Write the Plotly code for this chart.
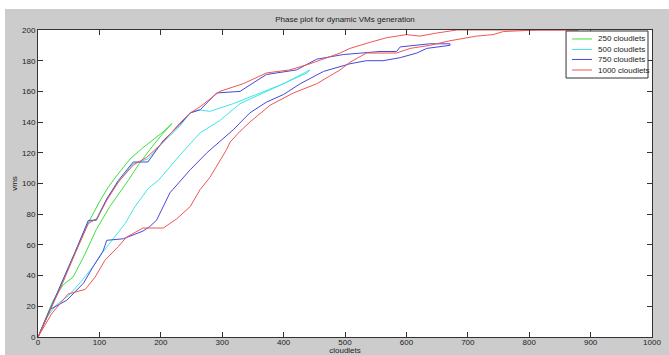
import plotly.graph_objects as go

# Phase trajectories (cloudlets vs. VMs) for each workload size.
# Each run climbs along one branch and returns along the other.
series_names = ["250 cloudlets", "500 cloudlets", "750 cloudlets", "1000 cloudlets"]

x_250 = [0, 10, 20, 32, 45, 60, 72, 84, 100, 115, 130, 150, 170, 190, 205, 218,
         200, 182, 165, 147, 117, 95, 74, 57, 41, 25, 12, 0]
y_250 = [0, 10, 19, 29, 41, 55, 66, 76, 88, 98, 106, 116, 123, 129, 134, 139,
         131, 122, 113, 102, 85, 70, 52, 39, 34, 24, 11, 0]

x_500 = [0, 20, 40, 60, 82, 95, 112, 131, 155, 179, 204, 230, 248, 262, 280, 318, 362, 400, 443,
         438, 405, 372, 329, 296, 264, 230, 196, 180, 158, 142, 120, 105, 90, 70, 50, 30, 15, 0]
y_500 = [0, 18, 36, 55, 75, 77, 90, 101, 113, 116, 127, 137, 146, 148, 147, 152, 159, 165, 174,
         172, 166, 160, 152, 141, 133, 118, 102, 97, 85, 74, 63, 55, 46, 36, 27, 21, 13, 0]

x_750 = [0, 20, 40, 60, 82, 95, 112, 131, 155, 179, 204, 230, 248, 264, 291, 329, 372, 421, 454,
         497, 557, 584, 590, 638, 671,
         671, 633, 617, 590, 562, 535, 508, 465, 427, 400, 372, 345, 318, 275, 248, 215, 209,
         193, 182, 171, 139, 112, 106, 90, 74, 57, 47, 20, 0]
y_750 = [0, 18, 36, 55, 76, 76, 90, 102, 114, 114, 128, 138, 146, 148, 159, 160, 171, 174, 181,
         184, 186, 186, 189, 191, 191,
         190, 188, 185, 182, 180, 180, 178, 173, 165, 158, 153, 146, 135, 120, 109, 94, 89,
         76, 72, 69, 64, 63, 56, 46, 35, 28, 24, 18, 0]

x_1000 = [0, 20, 40, 60, 82, 96, 112, 131, 155, 177, 204, 230, 248, 264, 296, 334, 372, 410,
          443, 492, 508, 541, 568, 600, 622, 649, 682, 880,
          812, 758, 741, 714, 671, 638, 606, 584, 535, 508, 492, 454, 416, 378, 345, 329, 313,
          307, 290, 280, 264, 248, 226, 204, 171, 158, 144, 131, 109, 93, 77, 49, 22, 0]
y_1000 = [0, 17, 35, 54, 74, 77, 89, 101, 112, 117, 127, 139, 146, 150, 160, 165, 172, 174,
          178, 185, 188, 192, 195, 197, 196, 198, 200, 200,
          200, 199, 197, 196, 193, 190, 188, 185, 185, 179, 174, 165, 159, 151, 140, 134, 127,
          122, 111, 104, 96, 85, 77, 71, 71, 68, 65, 59, 50, 39, 31, 28, 15, 0]

x_ticks = [0, 100, 200, 300, 400, 500, 600, 700, 800, 900, 1000]
y_ticks = [0, 20, 40, 60, 80, 100, 120, 140, 160, 180, 200]

colors = ["#3fe03f", "#40e6e6", "#4848dc", "#f05656"]

FONT = dict(family="Liberation Sans", size=8, color="#222222")

fig = go.Figure()
for name, xs, ys, c in zip(series_names,
                           [x_250, x_500, x_750, x_1000],
                           [y_250, y_500, y_750, y_1000],
                           colors):
    fig.add_trace(go.Scatter(x=xs, y=ys, mode="lines", name=name,
                             line=dict(color=c, width=1), showlegend=False))

axis_common = dict(
    showline=True, linecolor="#333333", linewidth=1, mirror="ticks",
    ticks="inside", ticklen=5, tickcolor="#333333", tickwidth=1,
    showgrid=False, zeroline=False, tickfont=FONT, automargin=False,
)

fig.update_xaxes(range=[0, 1000], tickvals=x_ticks, ticktext=[str(v) for v in x_ticks],
                 ticklabelstandoff=-3,
                 title=dict(text="cloudlets", standoff=6, font=FONT), **axis_common)
fig.update_yaxes(range=[0, 200], tickvals=y_ticks, ticktext=[str(v) for v in y_ticks],
                 title=dict(text="vms", standoff=3, font=FONT), **axis_common)

# Compact boxed legend in the upper-right corner of the axes
shapes = [
    dict(type="rect", xref="paper", yref="paper", x0=-0.07, x1=1.04,
         y0=(337 - 9) / 307, y1=1.11, fillcolor="#ffffff", line=dict(width=0),
         layer="below"),
    dict(type="rect", xref="paper", yref="paper", x0=-0.07, x1=(5 - 38) / 614,
         y0=-0.07, y1=1.11, fillcolor="#ffffff", line=dict(width=0),
         layer="below"),
    dict(type="rect", xref="paper", yref="paper", x0=0.860, x1=0.9935,
         y0=0.8436, y1=0.9967, fillcolor="#ffffff",
         line=dict(color="#333333", width=1), layer="above"),
]
annotations = []
row_y = [0.9707, 0.9365, 0.9040, 0.8697]
for name, c, ry in zip(series_names, colors, row_y):
    shapes.append(dict(type="line", xref="paper", yref="paper", x0=0.8697, x1=0.9023,
                       y0=ry, y1=ry, line=dict(color=c, width=1), layer="above"))
    annotations.append(dict(text=name, xref="paper", yref="paper", x=0.9088, y=ry,
                            xanchor="left", yanchor="middle", showarrow=False,
                            font=FONT))

fig.update_layout(
    width=669, height=355,
    margin=dict(l=38, r=17, t=30, b=18),
    paper_bgcolor="#cccccc",
    plot_bgcolor="#ffffff",
    title=dict(text="Phase plot for dynamic VMs generation", x=0.5, xref="paper",
               y=1 - 19 / 355, yref="container", yanchor="middle", xanchor="center",
               font=FONT),
    showlegend=False,
    shapes=shapes,
    annotations=annotations,
)

fig.write_html("out.html")
